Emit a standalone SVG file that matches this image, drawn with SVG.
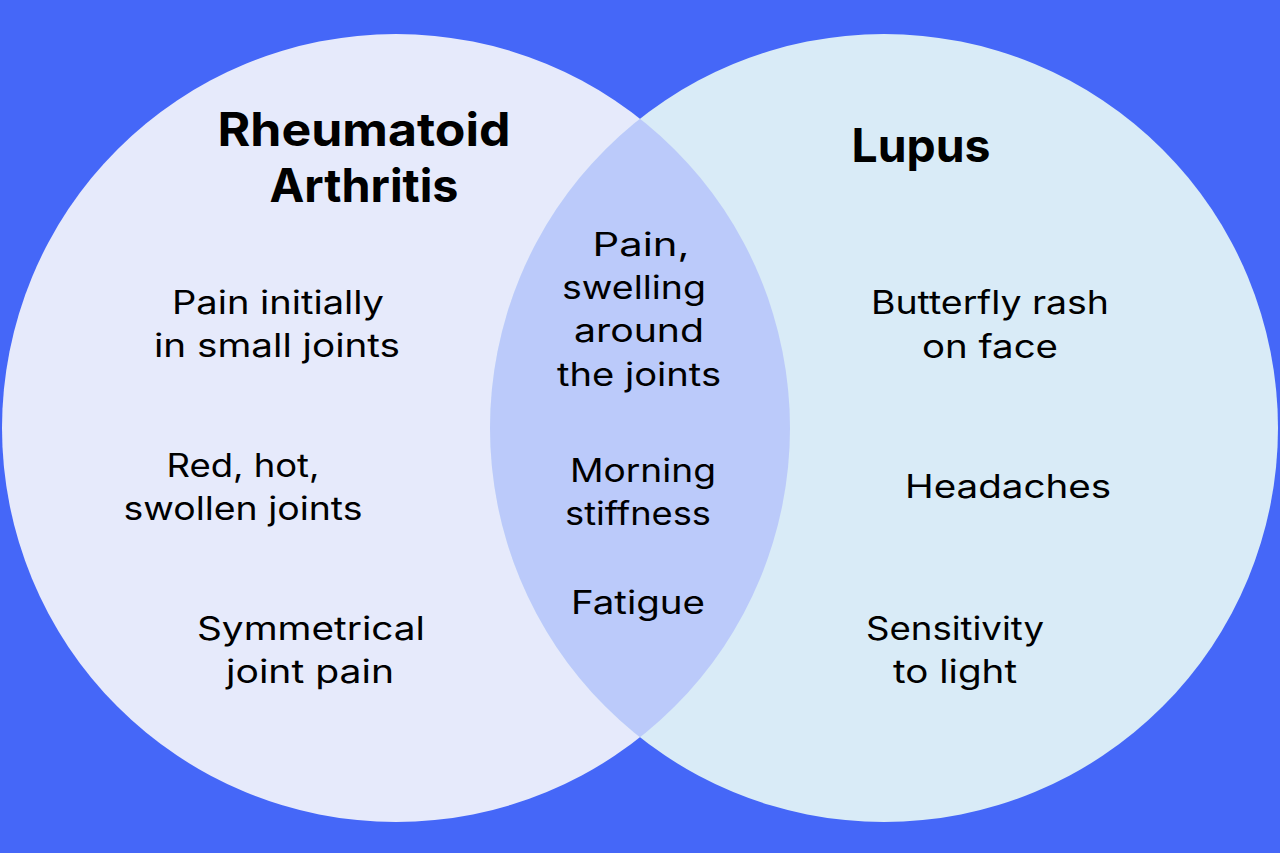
<svg xmlns="http://www.w3.org/2000/svg" width="1280" height="853" viewBox="0 0 1280 853">
<style>
.t{font-family:Inter,"Noto Sans","Liberation Sans",sans-serif;font-size:32px;fill:#000;text-anchor:middle}
.h{font-family:Inter,"Noto Sans","Liberation Sans",sans-serif;font-size:46px;font-weight:700;fill:#000;text-anchor:middle}
</style>
<defs>
<clipPath id="cr"><circle cx="884" cy="428" r="394"/></clipPath>
</defs>
<rect width="1280" height="853" fill="#4567f8"/>
<g id="ra">
<circle cx="396" cy="428" r="394" fill="#e6eafb"/>
</g>
<g id="lupus">
<circle cx="884" cy="428" r="394" fill="#d9ebf7"/>
</g>
<g id="overlap">
<circle cx="396" cy="428" r="394" fill="#bbcafa" clip-path="url(#cr)"/>
</g>
<g id="ra-text">
<text class="h" x="364" y="146" textLength="293" lengthAdjust="spacingAndGlyphs">Rheumatoid</text>
<text class="h" x="364" y="202" textLength="189" lengthAdjust="spacingAndGlyphs">Arthritis</text>
<text class="t" x="278" y="314" textLength="212" lengthAdjust="spacingAndGlyphs">Pain initially</text>
<text class="t" x="277" y="357" textLength="246" lengthAdjust="spacingAndGlyphs">in small joints</text>
<text class="t" x="243" y="477" textLength="153" lengthAdjust="spacingAndGlyphs">Red, hot,</text>
<text class="t" x="243" y="520" textLength="239" lengthAdjust="spacingAndGlyphs">swollen joints</text>
<text class="t" x="311" y="640" textLength="228" lengthAdjust="spacingAndGlyphs">Symmetrical</text>
<text class="t" x="310" y="683" textLength="168" lengthAdjust="spacingAndGlyphs">joint pain</text>
</g>
<g id="both-text">
<text class="t" x="641" y="256" textLength="97" lengthAdjust="spacingAndGlyphs">Pain,</text>
<text class="t" x="634" y="299" textLength="144" lengthAdjust="spacingAndGlyphs">swelling</text>
<text class="t" x="639" y="342" textLength="130" lengthAdjust="spacingAndGlyphs">around</text>
<text class="t" x="639" y="386" textLength="164" lengthAdjust="spacingAndGlyphs">the joints</text>
<text class="t" x="643" y="482" textLength="146" lengthAdjust="spacingAndGlyphs">Morning</text>
<text class="t" x="638" y="525" textLength="146" lengthAdjust="spacingAndGlyphs">stiffness</text>
<text class="t" x="638" y="614" textLength="134" lengthAdjust="spacingAndGlyphs">Fatigue</text>
</g>
<g id="lupus-text">
<text class="h" x="921" y="162" textLength="139" lengthAdjust="spacingAndGlyphs">Lupus</text>
<text class="t" x="990" y="314" textLength="238" lengthAdjust="spacingAndGlyphs">Butterfly rash</text>
<text class="t" x="990" y="358" textLength="136" lengthAdjust="spacingAndGlyphs">on face</text>
<text class="t" x="1008" y="498" textLength="206" lengthAdjust="spacingAndGlyphs">Headaches</text>
<text class="t" x="955" y="640" textLength="178" lengthAdjust="spacingAndGlyphs">Sensitivity</text>
<text class="t" x="955" y="683" textLength="124" lengthAdjust="spacingAndGlyphs">to light</text>
</g>
</svg>
